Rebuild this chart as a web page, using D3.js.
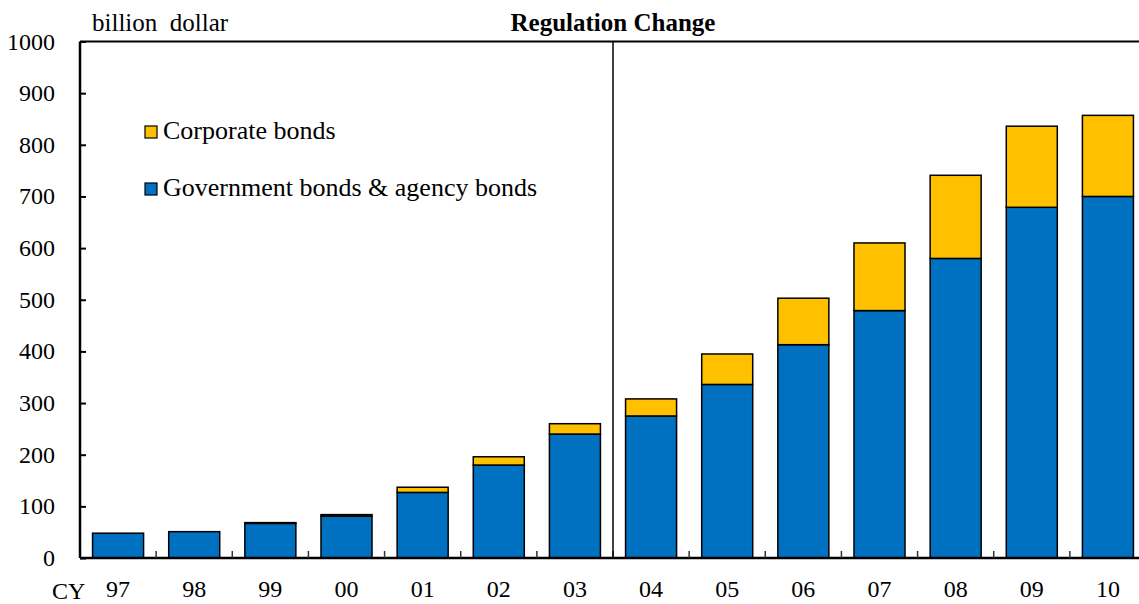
<!DOCTYPE html>
<html>
<head>
<meta charset="utf-8">
<script src="https://cdn.jsdelivr.net/npm/d3@7"></script>
<style>
  body { margin: 0; background: #fff; }
</style>
</head>
<body>
<div id="chart"></div>
<script>
// Data (billion dollar)
const years = ['97', '98', '99', '00', '01', '02', '03', '04', '05', '06', '07', '08', '09', '10'];
const govBonds = [48, 51, 67, 81, 127, 180, 240, 275, 336, 413, 479, 580, 679, 700];
const corpBonds = [0, 0, 1.5, 3, 10, 16, 20, 33, 59, 90, 131, 161, 157, 157];
const yTicks = [0, 100, 200, 300, 400, 500, 600, 700, 800, 900, 1000];
const seriesNames = ['Corporate bonds', 'Government bonds & agency bonds'];
const seriesColors = ['#ffc000', '#0070c0'];

const width = 1139, height = 604;
const margin = { top: 41.5, right: -7, bottom: 46, left: 80 };
const font = "'Liberation Serif', 'Times New Roman', Times, serif";

const svg = d3.select('#chart')
  .append('svg')
  .attr('width', width)
  .attr('height', height)
  .attr('font-family', font);

const x = d3.scaleBand()
  .domain(years)
  .range([margin.left, width - margin.right])
  .paddingInner(0.33)
  .paddingOuter(0.165);

const band = d3.scaleBand()
  .domain(years)
  .range([margin.left, width - margin.right]);

const y = d3.scaleLinear()
  .domain([0, 1000])
  .range([height - margin.bottom, margin.top]);

// Stacked bars
const rows = years.map((yr, i) => ({ year: yr, gov: govBonds[i], corp: corpBonds[i] }));
const stack = d3.stack().keys(['gov', 'corp'])(rows);
const colorOf = { gov: seriesColors[1], corp: seriesColors[0] };

svg.append('g')
  .selectAll('g')
  .data(stack)
  .join('g')
  .attr('fill', (d) => colorOf[d.key])
  .selectAll('rect')
  .data((d) => d)
  .join('rect')
  .attr('x', (d) => x(d.data.year))
  .attr('y', (d) => y(d[1]))
  .attr('width', x.bandwidth())
  .attr('height', (d) => Math.max(0, y(d[0]) - y(d[1])))
  .attr('stroke', '#000')
  .attr('stroke-width', 1.5);

// Y axis
const yAxis = svg.append('g')
  .attr('transform', 'translate(' + margin.left + ',0)')
  .call(d3.axisRight(y).tickValues(yTicks).tickSize(6).tickFormat(''));
yAxis.select('.domain').remove();
yAxis.selectAll('line').attr('stroke', '#000').attr('stroke-width', 2);
svg.append('line')
  .attr('x1', margin.left).attr('x2', margin.left)
  .attr('y1', y(1000)).attr('y2', y(0))
  .attr('stroke', '#000').attr('stroke-width', 2.5);
svg.append('g')
  .selectAll('text')
  .data(yTicks)
  .join('text')
  .attr('x', 55)
  .attr('y', (d) => y(d) + 8)
  .attr('text-anchor', 'end')
  .attr('font-size', 24)
  .text((d) => d);

// Top border
svg.append('line')
  .attr('x1', margin.left).attr('x2', width)
  .attr('y1', y(1000)).attr('y2', y(1000))
  .attr('stroke', '#000').attr('stroke-width', 2);

// X axis: baseline, inner ticks at category boundaries, labels
svg.append('line')
  .attr('x1', margin.left).attr('x2', width)
  .attr('y1', y(0)).attr('y2', y(0))
  .attr('stroke', '#000').attr('stroke-width', 2.5);
svg.append('g')
  .selectAll('line')
  .data(years.slice(1))
  .join('line')
  .attr('x1', (d) => band(d)).attr('x2', (d) => band(d))
  .attr('y1', y(0)).attr('y2', y(0) - 7)
  .attr('stroke', '#333').attr('stroke-width', 1.5);
svg.append('g')
  .selectAll('text')
  .data(years)
  .join('text')
  .attr('x', (d) => band(d) + band.bandwidth() / 2)
  .attr('y', 597)
  .attr('text-anchor', 'middle')
  .attr('font-size', 24)
  .text((d) => d);
svg.append('text')
  .attr('x', 52).attr('y', 599)
  .attr('font-size', 24)
  .text('CY');

// Regulation change marker between 03 and 04
svg.append('line')
  .attr('x1', band('04')).attr('x2', band('04'))
  .attr('y1', y(1000)).attr('y2', y(0))
  .attr('stroke', '#000').attr('stroke-width', 1.5);
svg.append('text')
  .attr('x', band('04'))
  .attr('y', 31)
  .attr('text-anchor', 'middle')
  .attr('font-size', 25)
  .attr('font-weight', 'bold')
  .text('Regulation Change');

// Unit label
svg.append('text')
  .attr('x', 92).attr('y', 31)
  .attr('font-size', 25)
  .style('white-space', 'pre')
  .text('billion  dollar');

// Legend
const legend = svg.append('g')
  .selectAll('g')
  .data(seriesNames)
  .join('g')
  .attr('transform', (d, i) => 'translate(145,' + (126 + i * 57) + ')');
legend.append('rect')
  .attr('width', 12).attr('height', 12)
  .attr('fill', (d, i) => seriesColors[i])
  .attr('stroke', '#000').attr('stroke-width', 1.2);
legend.append('text')
  .attr('x', 18).attr('y', 13)
  .attr('font-size', 26)
  .text((d) => d);
</script>
</body>
</html>
